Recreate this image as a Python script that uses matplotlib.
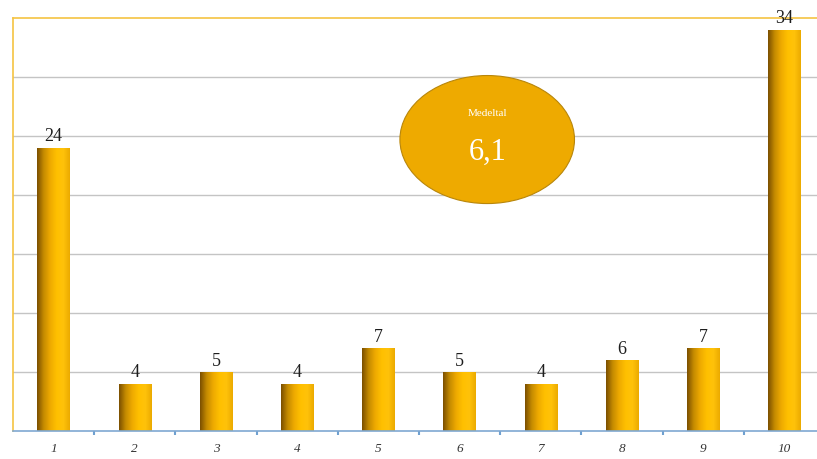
import numpy as np
import matplotlib.pyplot as plt
from matplotlib.patches import Ellipse
from matplotlib.colors import LinearSegmentedColormap

categories = ["1", "2", "3", "4", "5", "6", "7", "8", "9", "10"]
values = [24, 4, 5, 4, 7, 5, 4, 6, 7, 34]
mean_label = "Medeltal"
mean_value = "6,1"

plt.rcParams['font.family'] = ['Liberation Serif', 'DejaVu Serif']

fig = plt.figure(figsize=(8.17, 4.59), dpi=100)
ax = fig.add_axes([13/817, 28/459, 812/817, 413/459])

x = np.arange(len(categories))
bar_w = 0.4

# gradient: brownish on the left edge, bright gold towards the right
grad_cmap = LinearSegmentedColormap.from_list(
    "gold", ["#7a4e00", "#c48a00", "#eeaa00", "#ffc000", "#ffc20a", "#ebaa00"])
grad = np.linspace(0, 1, 256).reshape(1, -1)

bars = ax.bar(x, values, width=bar_w, color="none", zorder=2)
for rect in bars:
    x0 = rect.get_x()
    h = rect.get_height()
    im = ax.imshow(grad, cmap=grad_cmap, extent=[x0, x0 + bar_w, 0, h],
                   aspect="auto", zorder=2, interpolation="bilinear")
    im.set_clip_path(rect)
    ax.text(x0 + bar_w / 2, h + 0.2, str(h), ha="center", va="bottom",
            fontsize=13, color="#1e1e1e", zorder=4)

ax.set_xlim(-0.5, len(categories) - 0.5)
ax.set_ylim(0, 35)
ax.set_yticks(np.arange(5, 35, 5))
ax.yaxis.grid(True, color="#c4c4c4", linewidth=1.0, zorder=0)
ax.set_axisbelow(True)
ax.tick_params(axis="y", left=False, labelleft=False)

ax.set_xticks(x)
ax.set_xticklabels(categories, fontstyle="italic", fontsize=9.5, color="#333333")
ax.tick_params(axis="x", which="major", length=0, pad=9)
ax.set_xticks(np.arange(0.5, len(categories) - 0.5, 1), minor=True)
ax.tick_params(axis="x", which="minor", length=3, width=1.5, color="#6fa0d0")

for s in ["left", "top"]:
    ax.spines[s].set_color("#f5c342")
    ax.spines[s].set_linewidth(1.2)
ax.spines["right"].set_visible(False)
ax.spines["bottom"].set_color("#7fa8d2")
ax.spines["bottom"].set_linewidth(1.2)

ell = Ellipse((5.34, 24.7), 2.15, 10.85, facecolor="#eeaa00",
              edgecolor="#b8860b", linewidth=0.8, zorder=5)
ax.add_patch(ell)
ax.text(5.34, 26.9, mean_label, ha="center", va="center", fontsize=8,
        color="white", zorder=6)
ax.text(5.34, 23.6, mean_value, ha="center", va="center", fontsize=22,
        color="white", zorder=6)

fig.savefig("out.png", dpi=100)
